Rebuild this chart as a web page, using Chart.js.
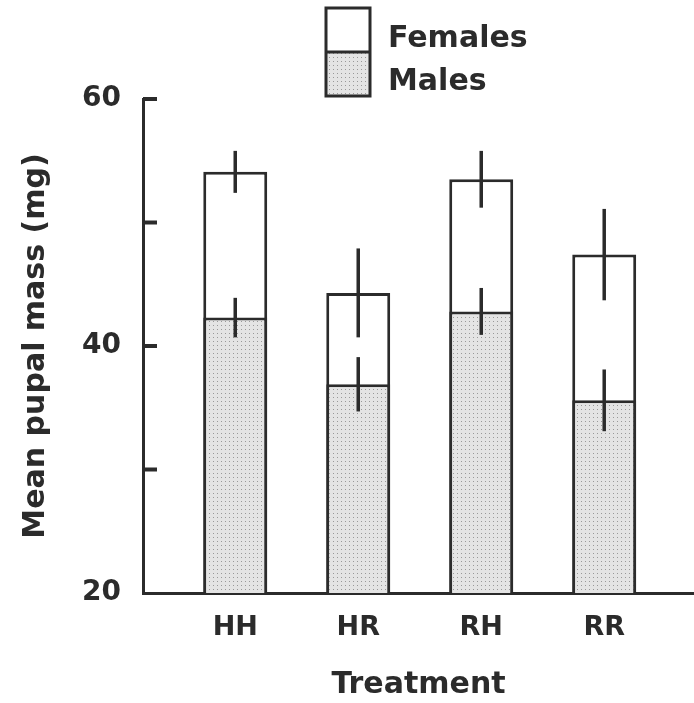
<!DOCTYPE html>
<html>
<head>
<meta charset="utf-8">
<script src="https://cdn.jsdelivr.net/npm/chart.js@4.4.0/dist/chart.umd.min.js"></script>
<style>
  body { margin: 0; background: #fff; }
  #wrap { width: 694px; height: 703px; }
</style>
</head>
<body>
<div id="wrap"><canvas id="bar-chartcanvas"></canvas></div>
<script>
// data
var categories = ["HH", "HR", "RH", "RR"];
var femaleMean = [54.1, 44.3, 53.5, 47.4];
var femaleErr = [1.7, 3.6, 2.3, 3.7];
var maleMean = [42.3, 36.9, 42.8, 35.6];
var maleErr = [1.6, 2.2, 1.9, 2.5];
var yTicks = [20, 30, 40, 50, 60];
var yLabels = ["20", "", "40", "", "60"];

var ink = "#2b2b2b";
var fontName = "'DejaVu Sans', 'Liberation Sans', sans-serif";

// stipple fill for the males bars
function dots() {
  var c = document.createElement("canvas");
  c.width = 4; c.height = 4;
  var g = c.getContext("2d");
  g.fillStyle = "#e4e4e4";
  g.fillRect(0, 0, 4, 4);
  g.fillStyle = "#999999";
  g.fillRect(1, 1, 1, 1);
  return g.createPattern(c, "repeat");
}
var stipple = dots();

var errors = [femaleErr, maleErr];

var errorBars = {
  id: "errorBars",
  afterDatasetsDraw: function(chart) {
    var ctx = chart.ctx;
    var y = chart.scales.y;
    ctx.save();
    ctx.strokeStyle = ink;
    ctx.lineWidth = 3.5;
    chart.data.datasets.forEach(function(ds, d) {
      var meta = chart.getDatasetMeta(d);
      meta.data.forEach(function(bar, i) {
        var v = ds.data[i].y, e = errors[d][i];
        ctx.beginPath();
        ctx.moveTo(bar.x, y.getPixelForValue(v + e));
        ctx.lineTo(bar.x, y.getPixelForValue(v - e));
        ctx.stroke();
      });
    });
    ctx.restore();
  }
};

// short ticks pointing into the plot, plus the legend box
var extras = {
  id: "extras",
  afterDraw: function(chart) {
    var ctx = chart.ctx;
    var y = chart.scales.y;
    var left = chart.chartArea.left;
    ctx.save();
    ctx.strokeStyle = ink;
    ctx.lineWidth = 4;
    yTicks.forEach(function(t) {
      if (t === 20) return;
      var p = y.getPixelForValue(t);
      ctx.beginPath();
      ctx.moveTo(left, p);
      ctx.lineTo(left + 14, p);
      ctx.stroke();
    });

    // legend
    ctx.lineWidth = 3;
    ctx.fillStyle = "#fff";
    ctx.fillRect(326, 8, 44, 44);
    ctx.fillStyle = stipple;
    ctx.fillRect(326, 52, 44, 44);
    ctx.strokeRect(326, 8, 44, 88);
    ctx.beginPath();
    ctx.moveTo(326, 52);
    ctx.lineTo(370, 52);
    ctx.stroke();
    ctx.fillStyle = ink;
    ctx.font = "bold 30px " + fontName;
    ctx.textBaseline = "alphabetic";
    ctx.fillText("Females", 388, 47);
    ctx.fillText("Males", 388, 90);
    ctx.restore();
  }
};

var ctx1 = document.getElementById("bar-chartcanvas");

var data = {
  datasets: [
    {
      label: "Females",
      data: categories.map(function(c, i) { return { x: i + 1, y: femaleMean[i] }; }),
      backgroundColor: "#ffffff",
      borderColor: ink,
      borderWidth: 3,
      order: 1
    },
    {
      label: "Males",
      data: categories.map(function(c, i) { return { x: i + 1, y: maleMean[i] }; }),
      backgroundColor: stipple,
      borderColor: ink,
      borderWidth: 3,
      order: 0
    }
  ]
};

var options = {
  responsive: true,
  maintainAspectRatio: false,
  animation: false,
  layout: { padding: { top: 99, right: 0, left: 0, bottom: 0 } },
  datasets: {
    bar: { grouped: false, categoryPercentage: 1, barPercentage: 0.52, base: 20 }
  },
  plugins: {
    legend: { display: false },
    tooltip: { enabled: false }
  },
  scales: {
    x: {
      type: "linear",
      offset: false,
      bounds: "data",
      min: 0.25,
      max: 4.73,
      afterBuildTicks: function(s) {
        s.ticks = categories.map(function(c, i) { return { value: i + 1 }; });
      },
      ticks: {
        callback: function(v, i) { return categories[i]; },
        color: ink,
        font: { family: fontName, size: 27, weight: "bold" },
        padding: 19,
        autoSkip: false,
        maxRotation: 0
      },
      grid: { display: false, drawTicks: false, offset: false },
      border: { display: true, color: ink, width: 3 },
      title: {
        display: true,
        text: "Treatment",
        color: ink,
        font: { family: fontName, size: 30, weight: "bold" },
        padding: { top: 0, bottom: 0 }
      },
      afterFit: function(s) { s.height = 110; }
    },
    y: {
      min: 20,
      max: 60,
      afterBuildTicks: function(s) {
        s.ticks = yTicks.map(function(v) { return { value: v }; });
      },
      ticks: {
        callback: function(v, i) { return yLabels[i]; },
        color: ink,
        font: { family: fontName, size: 28, weight: "bold" },
        padding: 22
      },
      grid: { display: false, drawTicks: false },
      border: { display: true, color: ink, width: 3 },
      title: {
        display: true,
        text: "Mean pupal mass (mg)",
        color: ink,
        font: { family: fontName, size: 30, weight: "bold" },
        padding: { top: 18, bottom: 0 }
      },
      afterFit: function(s) { s.width = 143; }
    }
  }
};

var chart1 = new Chart(ctx1, {
  type: "bar",
  data: data,
  options: options,
  plugins: [errorBars, extras]
});
</script>
</body>
</html>
